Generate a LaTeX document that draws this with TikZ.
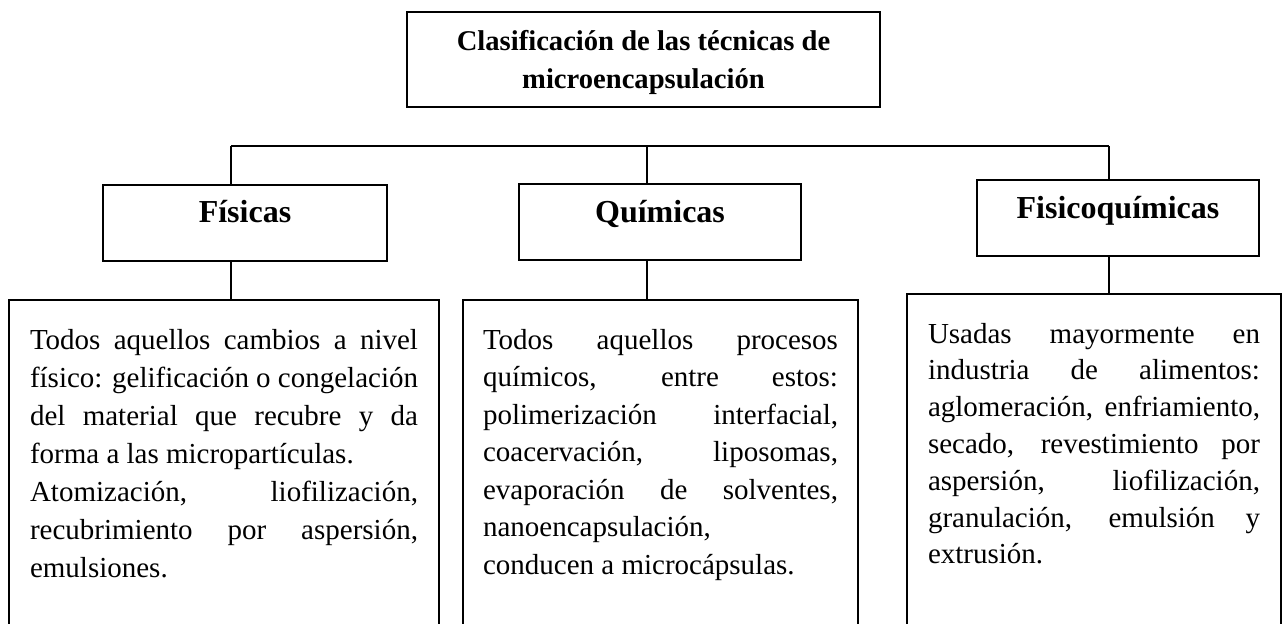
\documentclass[tikz,border=0pt]{standalone}
\usepackage{fontspec}
\setmainfont{Liberation Serif}
\newcommand{\jline}[1]{\makebox[\linewidth][s]{#1}\par}
\newcommand{\lline}[1]{\makebox[\linewidth][l]{#1}\par}
\begin{document}
\begin{tikzpicture}[x=0.5pt,y=-0.5pt,
  box/.style={draw=black, line width=1pt, inner sep=0pt, outer sep=0pt},
  headbox/.style={box, minimum height=38pt, text height=0pt, text depth=0pt,
    font=\fontsize{16}{19}\selectfont\bfseries},
  textbox/.style={box, anchor=north, inner ysep=14.5pt, text height=10pt, text depth=200pt},
  link/.style={line width=1pt}]
\useasboundingbox (0,0) rectangle (1283,623);
\clip (0,0) rectangle (1283,623);

% title
\node[box, minimum width=236.5pt, minimum height=47.5pt, text height=28.5pt, text depth=0pt,
      font=\fontsize{14.3}{19}\selectfont\bfseries] (title) at (643.5,59.5)
  {\vbox{\baselineskip=19pt
     \hbox to 220pt{\hss Clasificación de las técnicas de\hss}
     \hbox to 220pt{\hss microencapsulación\hss}}};

% headers
\node[headbox, minimum width=142pt] (fis) at (245,222.5) {Físicas};
\node[headbox, minimum width=141pt] (qui) at (660,222) {Químicas};
\node[headbox, minimum width=141pt] (fq) at (1118,218) {Fisicoquímicas};

% detail boxes
\node[textbox, inner xsep=10.5pt] (d1) at (224,300)
  {\begin{minipage}[t]{194pt}\fontsize{14.5}{19}\selectfont
   \jline{Todos aquellos cambios a nivel}
   \jline{físico: gelificación o congelación}
   \jline{del material que recubre y da}
   \lline{forma a las micropartículas.}
   \jline{Atomización, liofilización,}
   \jline{recubrimiento por aspersión,}
   \lline{emulsiones.}
   \end{minipage}};
\node[textbox, inner xsep=10pt] (d2) at (660.5,300)
  {\begin{minipage}[t]{177.5pt}\fontsize{14.5}{18.75}\selectfont
   \jline{Todos aquellos procesos}
   \jline{químicos, entre estos:}
   \jline{polimerización interfacial,}
   \jline{coacervación, liposomas,}
   \jline{evaporación de solventes,}
   \lline{nanoencapsulación,}
   \lline{conducen a microcápsulas.}
   \end{minipage}};
\node[textbox, inner xsep=10.5pt] (d3) at (1094,294)
  {\begin{minipage}[t]{166pt}\fontsize{14.5}{18.4}\selectfont
   \jline{Usadas mayormente en}
   \jline{industria de alimentos:}
   \jline{aglomeración, enfriamiento,}
   \jline{secado, revestimiento por}
   \jline{aspersión, liofilización,}
   \jline{granulación, emulsión y}
   \lline{extrusión.}
   \end{minipage}};

% connectors
\coordinate (b1) at (231,146);
\coordinate (b2) at (647,146);
\coordinate (b3) at (1109,146);
\draw[link] (b1) -- (b3);
\draw[link] (b1) -- (b1 |- fis.north);
\draw[link] (b2) -- (b2 |- qui.north);
\draw[link] (b3) -- (b3 |- fq.north);
\draw[link] (b1 |- fis.south) -- (b1 |- d1.north);
\draw[link] (b2 |- qui.south) -- (b2 |- d2.north);
\draw[link] (b3 |- fq.south) -- (b3 |- d3.north);
\end{tikzpicture}
\end{document}
